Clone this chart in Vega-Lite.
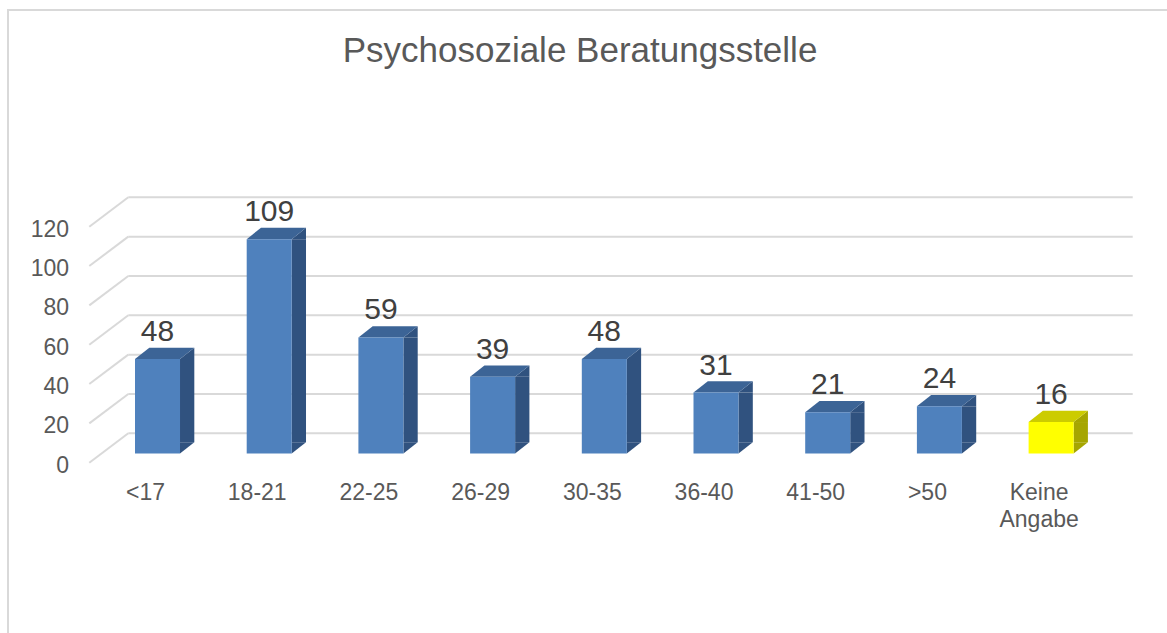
{
  "$schema": "https://vega.github.io/schema/vega-lite/v6.json",
  "autosize": {"type": "none"},
  "padding": {"left": 8, "top": 10, "right": 0, "bottom": 0},
  "width": 1170,
  "height": 640,
  "background": "white",
  "config": {
    "view": {"stroke": "#d9d9d9", "strokeWidth": 2},
    "font": "Liberation Sans"
  },
  "title": {
    "text": "Psychosoziale Beratungsstelle",
    "fontSize": 35,
    "font": "Liberation Sans",
    "fontWeight": "normal",
    "color": "#595959",
    "anchor": "middle",
    "frame": "group",
    "baseline": "alphabetic",
    "offset": -51,
    "dx": -13,
    "dy": 36
  },
  "datasets": {
    "alter": [
      {"kat": "<17", "anzahl": 48},
      {"kat": "18-21", "anzahl": 109},
      {"kat": "22-25", "anzahl": 59},
      {"kat": "26-29", "anzahl": 39},
      {"kat": "30-35", "anzahl": 48},
      {"kat": "36-40", "anzahl": 31},
      {"kat": "41-50", "anzahl": 21},
      {"kat": ">50", "anzahl": 24},
      {"kat": "Keine Angabe", "anzahl": 16}
    ],
    "raster": [
      {"wert": 0}, {"wert": 20}, {"wert": 40}, {"wert": 60},
      {"wert": 80}, {"wert": 100}, {"wert": 120}
    ]
  },
  "layer": [
    {
      "data": {"name": "raster"},
      "mark": {"type": "rule", "color": "#d9d9d9", "strokeWidth": 2, "xOffset": -6.7, "x2Offset": 59.1, "yOffset": -20.2},
      "encoding": {
        "x": {"datum": "<17", "type": "nominal", "bandPosition": 0,
              "scale": {"domain": ["<17", "18-21", "22-25", "26-29", "30-35", "36-40", "41-50", ">50", "Keine Angabe"],
                        "range": [93.66, 1098.96], "paddingInner": 0.597, "paddingOuter": 0.2985},
              "axis": null},
        "x2": {"datum": "Keine Angabe", "bandPosition": 1},
        "y": {"field": "wert", "type": "quantitative", "scale": {"domain": [0, 120], "range": [443.5, 207.5]}, "axis": null}
      }
    },
    {
      "data": {"name": "raster"},
      "mark": {"type": "rule", "color": "#d9d9d9", "strokeWidth": 2, "xOffset": -45.7, "x2Offset": -6.7, "yOffset": 9.2, "y2Offset": -20.2},
      "encoding": {
        "x": {"datum": "<17", "type": "nominal", "bandPosition": 0, "axis": null},
        "x2": {"datum": "<17", "bandPosition": 0},
        "y": {"field": "wert", "type": "quantitative", "axis": null},
        "y2": {"field": "wert"}
      }
    },
    {
      "data": {"name": "raster"},
      "mark": {"type": "text", "align": "right", "baseline": "alphabetic", "fontSize": 23, "color": "#595959", "xOffset": -66, "yOffset": 19},
      "encoding": {
        "x": {"datum": "<17", "type": "nominal", "bandPosition": 0, "axis": null},
        "y": {"field": "wert", "type": "quantitative", "axis": null},
        "text": {"field": "wert", "type": "quantitative"}
      }
    },
    {
      "data": {"name": "alter"},
      "mark": {"type": "bar", "width": 14.3, "xOffset": 29.65, "y2Offset": -11.3},
      "encoding": {
        "x": {"field": "kat", "type": "nominal", "axis": null},
        "y": {"field": "anzahl", "type": "quantitative", "axis": null},
        "y2": {"datum": 0},
        "color": {"condition": {"test": "datum.kat === 'Keine Angabe'", "value": "#a6a600"}, "value": "#30527f"}
      }
    },
    {
      "data": {"name": "alter"},
      "mark": {"type": "point", "filled": true, "opacity": 1, "size": 4, "shape": "M22.5,0L36.8,-11.3L36.8,0Z"},
      "encoding": {
        "x": {"field": "kat", "type": "nominal", "axis": null},
        "y": {"field": "anzahl", "type": "quantitative", "axis": null},
        "color": {"condition": {"test": "datum.kat === 'Keine Angabe'", "value": "#a6a600"}, "value": "#30527f"}
      }
    },
    {
      "data": {"name": "alter"},
      "mark": {"type": "point", "filled": true, "opacity": 1, "size": 4, "shape": "M22.5,-11.3L36.8,-11.3L22.5,0Z"},
      "encoding": {
        "x": {"field": "kat", "type": "nominal", "axis": null},
        "y": {"datum": 0, "type": "quantitative", "axis": null},
        "color": {"condition": {"test": "datum.kat === 'Keine Angabe'", "value": "#a6a600"}, "value": "#30527f"}
      }
    },
    {
      "data": {"name": "alter"},
      "mark": {"type": "point", "filled": true, "opacity": 1, "size": 4, "shape": "M-22.5,0L-8.2,-11.3L36.8,-11.3L22.5,0Z"},
      "encoding": {
        "x": {"field": "kat", "type": "nominal", "axis": null},
        "y": {"field": "anzahl", "type": "quantitative", "axis": null},
        "color": {"condition": {"test": "datum.kat === 'Keine Angabe'", "value": "#cccc00"}, "value": "#3c6496"}
      }
    },
    {
      "data": {"name": "alter"},
      "mark": {"type": "bar"},
      "encoding": {
        "x": {"field": "kat", "type": "nominal", "axis": null},
        "y": {"field": "anzahl", "type": "quantitative", "axis": null},
        "y2": {"datum": 0},
        "color": {"condition": {"test": "datum.kat === 'Keine Angabe'", "value": "#ffff00"}, "value": "#4f81bd"}
      }
    },
    {
      "data": {"name": "alter"},
      "mark": {"type": "text", "baseline": "alphabetic", "fontSize": 30, "color": "#404040", "yOffset": -18},
      "encoding": {
        "x": {"field": "kat", "type": "nominal", "axis": null},
        "y": {"field": "anzahl", "type": "quantitative", "axis": null},
        "text": {"field": "anzahl", "type": "quantitative"}
      }
    },
    {
      "data": {"name": "alter"},
      "mark": {"type": "text", "baseline": "alphabetic", "fontSize": 23, "color": "#595959", "xOffset": -12, "yOffset": 46.5, "lineBreak": " ", "lineHeight": 27},
      "encoding": {
        "x": {"field": "kat", "type": "nominal", "axis": null},
        "y": {"datum": 0, "type": "quantitative", "axis": null},
        "text": {"field": "kat", "type": "nominal"}
      }
    }
  ]
}
